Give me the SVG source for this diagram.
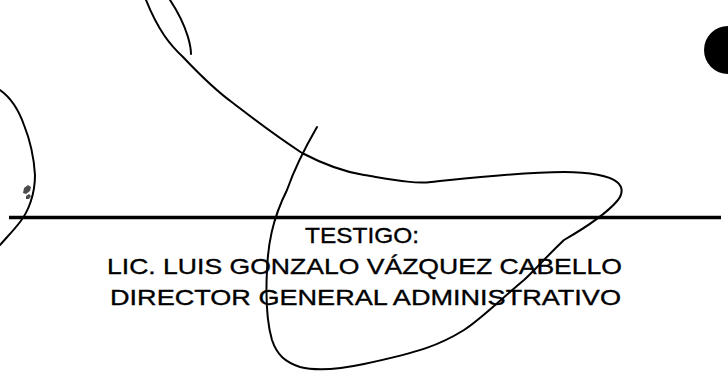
<svg xmlns="http://www.w3.org/2000/svg" width="728" height="371" viewBox="0 0 728 371">
<style>
.sig{fill:none;stroke:#000;stroke-width:2;stroke-linecap:round;stroke-linejoin:round}
.t{font-family:"Liberation Sans",Arial,sans-serif;font-size:22.6px;fill:#000;stroke:#000;stroke-width:0.35;text-anchor:middle}
</style>
<rect width="728" height="371" fill="#fff"/>
<g id="signature-line">
<line x1="9" y1="217.5" x2="721" y2="217.5" stroke="#000" stroke-width="3.4"/>
</g>
<g id="caption">
<text class="t" x="362" y="242.5" textLength="114" lengthAdjust="spacingAndGlyphs">TESTIGO:</text>
<text class="t" x="364.5" y="273.5" textLength="515" lengthAdjust="spacingAndGlyphs">LIC. LUIS GONZALO VÁZQUEZ CABELLO</text>
<text class="t" x="365.5" y="304.5" textLength="511" lengthAdjust="spacingAndGlyphs">DIRECTOR GENERAL ADMINISTRATIVO</text>
</g>
<g id="strokes">
<path class="sig" d="M146,0 C158,30 170,45 183,57 C200,75 215,90 233,103 C255,120 270,132 302,153 C325,165 345,172 364,175 C395,180 415,184 431,182 C470,178 520,172 564,172 C590,172 610,176 617,182 C623,187 623,193 618,200 C608,212 590,225 564,240 C545,258 535,270 524,280 C500,300 480,320 464,330 C440,345 420,352 364,364 C345,368 320,372 300,367 C285,362 277,355 272,340 C266,320 266,290 267,270 C268,245 272,220 287,190 C294,170 302,153 317,127" stroke-width="2.2"/>
<path class="sig" d="M170,0 C178,12 184,24 188,37 C190,44 191,49 191,54" stroke-width="2.2"/>
<path class="sig" d="M0,90 C10,97 18,108 24,125 C30,140 34,158 35,175 C35,195 28,212 20,222 C14,230 7,237 0,245" stroke-width="1.8"/>
<path d="M24,188 l4,-3 l3,2 l-1,4 l-4,3 l-3,-1 z M26,196 l3,-2 l2,2 l-2,3 l-3,0 z" fill="#000" opacity="0.7"/>
<circle cx="728" cy="50" r="24" fill="#000"/>
</g>
</svg>
